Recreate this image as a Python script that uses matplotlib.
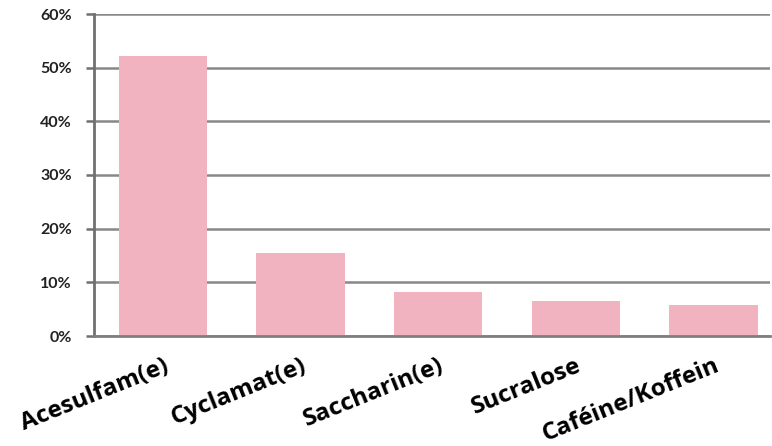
import numpy as np
import matplotlib.pyplot as plt
from matplotlib.ticker import PercentFormatter

sweeteners = ['Acesulfam(e)', 'Cyclamat(e)', 'Saccharin(e)', 'Sucralose', 'Caféine/Koffein']
shares = [52.2, 15.5, 8.2, 6.5, 5.8]

plt.rcParams['font.family'] = ['Lato', 'DejaVu Sans']

fig = plt.figure(figsize=(7.72, 4.46), dpi=100)
ax = fig.add_axes([94 / 772, 110 / 446, 676 / 772, 322 / 446])

x = np.arange(len(sweeteners))
ax.bar(x, shares, width=0.64, color='#f2b3c0', zorder=2)

ax.set_ylim(0, 60)
ax.set_xlim(-0.5, 4.41)
ax.set_yticks(np.arange(0, 61, 10))
ax.yaxis.set_major_formatter(PercentFormatter(decimals=0))
ax.yaxis.grid(True, color='#888888', linewidth=1.8, zorder=0)
ax.set_axisbelow(True)

for side in ['top', 'right']:
    ax.spines[side].set_visible(False)
ax.spines['left'].set_color('#707070')
ax.spines['left'].set_linewidth(2)
ax.spines['bottom'].set_color('#808080')
ax.spines['bottom'].set_linewidth(2)

ax.tick_params(axis='y', length=6, width=1.8, color='#707070', pad=10)
ax.tick_params(axis='x', length=0, pad=13)
for lbl in ax.get_yticklabels():
    lbl.set_fontweight('bold')
    lbl.set_fontsize(11.5)
    lbl.set_color('#222222')

ax.set_xticks(x)
ax.set_xticklabels(sweeteners, rotation=22, ha='right', rotation_mode='anchor',
                   fontsize=17.5, fontweight='bold', family=['Open Sans', 'DejaVu Sans'])

fig.savefig('out.png', dpi=100)
